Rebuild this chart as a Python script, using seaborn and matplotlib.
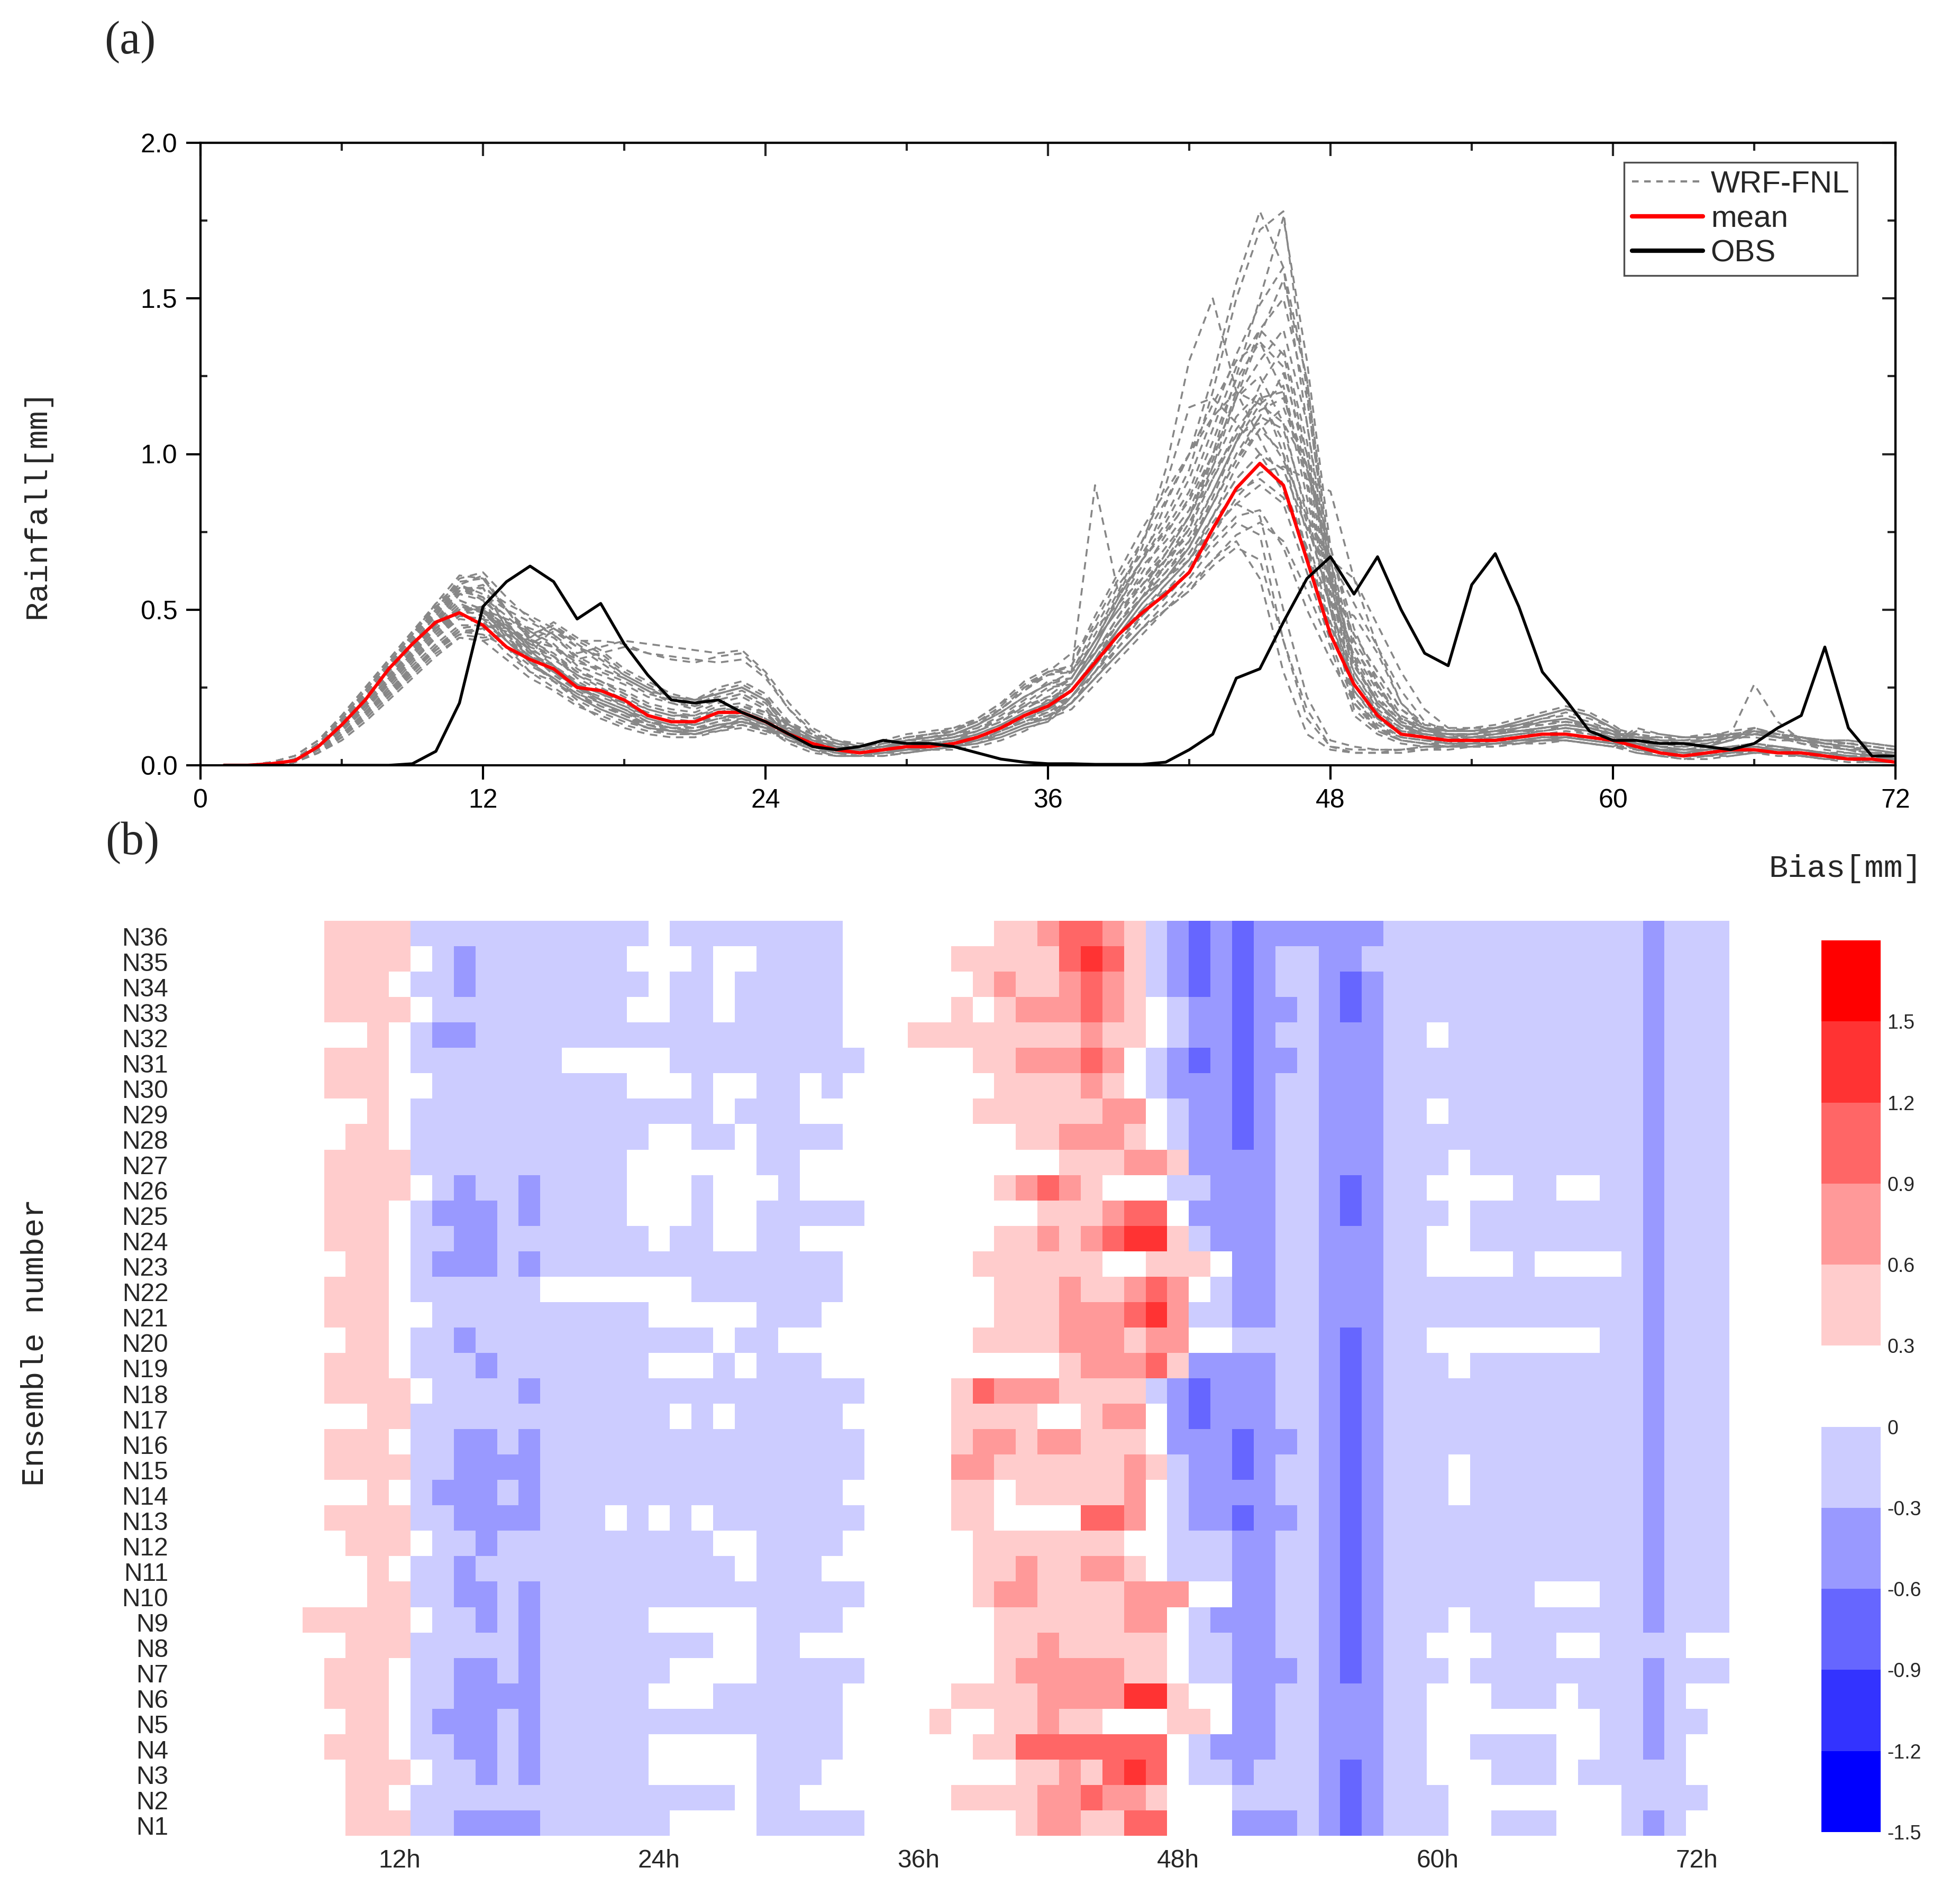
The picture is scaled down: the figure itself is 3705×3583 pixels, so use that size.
import numpy as np
import pandas as pd
import matplotlib
matplotlib.use("Agg")
import matplotlib.pyplot as plt
import matplotlib.transforms as mtransforms
from matplotlib.colors import ListedColormap, BoundaryNorm
from matplotlib.lines import Line2D
from matplotlib.ticker import MultipleLocator, NullFormatter, FormatStrFormatter
import seaborn as sns

sns.set_style("ticks")
plt.rcParams['font.family'] = ['Liberation Sans', 'DejaVu Sans']

# ---------------- panel (a) data ----------------
LINE_HOURS = list(range(1, 73))

OBS = [0, 0, 0, 0, 0, 0, 0, 0, 0.005, 0.045, 0.20, 0.51,
       0.59, 0.64, 0.59, 0.47, 0.52, 0.39, 0.29, 0.21, 0.20, 0.21, 0.17, 0.14,
       0.10, 0.06, 0.05, 0.06, 0.08, 0.07, 0.07, 0.06, 0.04, 0.02, 0.01, 0.005,
       0.005, 0.003, 0.003, 0.003, 0.01, 0.05, 0.10, 0.28, 0.31, 0.46, 0.60, 0.67,
       0.55, 0.67, 0.50, 0.36, 0.32, 0.58, 0.68, 0.51, 0.30, 0.21, 0.11, 0.08,
       0.08, 0.07, 0.07, 0.06, 0.05, 0.07, 0.12, 0.16, 0.38, 0.12, 0.03, 0.03]

MEAN = [0, 0, 0.005, 0.015, 0.06, 0.13, 0.21, 0.31, 0.39, 0.46, 0.49, 0.45,
        0.38, 0.34, 0.31, 0.25, 0.24, 0.21, 0.16, 0.14, 0.14, 0.17, 0.17, 0.14,
        0.10, 0.07, 0.05, 0.04, 0.05, 0.06, 0.06, 0.07, 0.09, 0.12, 0.16, 0.19,
        0.24, 0.33, 0.42, 0.49, 0.55, 0.62, 0.76, 0.89, 0.97, 0.90, 0.66, 0.42,
        0.26, 0.16, 0.10, 0.09, 0.08, 0.08, 0.08, 0.09, 0.10, 0.10, 0.09, 0.08,
        0.06, 0.04, 0.03, 0.04, 0.05, 0.05, 0.04, 0.04, 0.03, 0.02, 0.02, 0.01]

# WRF-FNL ensemble members, hourly rainfall in 0.01 mm (hours 1..72)
ENSEMBLE = {
 "N1": "0 0 0 2 6 13 21 29 37 45 52 49|44 38 35 29 26 22 18 16 15 18 19 16|11 7 5 4 5 6 7 8 10 13 17 20|26 36 48 58 66 76 92 108 118 104 74 46|26 15 10 9 8 8 8 9 10 11 10 8|7 5 4 4 5 6 5 4 3 3 2 2",
 "N2": "0 0 0 1 5 11 18 26 34 41 47 46|40 34 31 25 22 19 15 13 13 16 16 13|9 6 4 3 4 5 6 6 8 11 14 16|22 30 40 48 56 64 76 84 80 50 22 8|6 5 5 6 6 7 7 8 9 9 8 7|6 4 3 4 5 5 4 4 3 2 2 1",
 "N3": "0 0 1 3 8 16 25 34 43 52 58 55|50 46 42 36 38 40 39 38 37 36 37 30|20 12 8 6 6 8 9 10 13 17 22 26|30 44 58 68 80 95 120 150 172 178 120 60|35 22 14 11 10 10 11 12 14 15 13 10|9 7 6 7 9 12 10 8 6 5 4 3",
 "N4": "0 0 0 1 4 10 16 23 30 37 43 44|36 30 27 22 19 16 13 12 12 14 15 12|8 5 3 3 4 5 5 6 7 9 12 14|20 28 36 44 52 60 70 78 74 40 15 6|5 5 5 6 6 6 7 7 8 8 7 6|5 3 2 3 4 4 3 3 2 2 1 1",
 "N5": "0 0 0 2 7 14 22 31 40 50 60 62|54 47 42 34 30 27 23 21 20 22 24 20|12 8 6 5 7 9 10 11 14 19 26 30|36 44 52 60 68 80 100 125 150 176 130 70|40 28 16 12 11 11 12 14 16 18 16 12|8 6 5 6 10 26 14 8 6 5 3 3",
 "N6": "0 0 0 1 5 12 19 27 35 43 50 51|44 36 29 24 20 17 13 11 10 12 13 11|10 6 4 4 5 6 6 7 9 12 15 17|30 90 55 66 75 85 100 118 125 110 80 50|30 18 12 10 9 9 10 11 12 13 12 10|10 9 8 8 9 10 9 8 7 7 6 5",
 "N7": "0 0 0 2 6 12 20 28 36 46 56 58|50 42 45 40 36 30 26 22 20 24 26 22|12 8 6 5 6 7 8 9 11 14 18 22|28 40 55 70 95 130 150 120 105 90 70 45|24 14 9 8 8 9 9 10 11 12 11 9|5 4 4 5 6 6 5 4 3 2 2 2",
 "N8": "0 0 0 1 4 9 15 22 29 36 41 40|34 28 24 19 16 13 11 10 10 12 14 12|7 4 3 3 3 4 5 5 6 8 11 15|18 26 34 42 50 58 66 72 60 30 10 5|4 4 5 5 5 6 6 7 8 8 7 6|4 3 3 3 4 5 4 3 3 2 2 1",
 "N9": "0 0 0 2 6 14 22 30 38 46 53 50|41 35 30 26 23 19 16 14 13 15 17 14|13 9 7 5 6 8 9 10 13 17 22 26|26 38 52 64 72 82 100 118 130 140 110 62|33 20 13 10 9 10 12 13 15 16 14 11|8 6 4 4 5 7 6 5 4 3 3 2",
 "N10": "0 0 0 1 5 11 18 26 34 42 48 47|45 39 35 30 27 23 19 17 15 17 19 17|10 7 5 4 5 6 6 7 9 12 16 19|24 34 46 56 64 72 84 98 112 126 100 60|22 13 9 8 7 7 7 8 9 9 8 7|11 10 9 9 10 11 10 9 8 8 7 6",
 "N11": "0 0 1 3 8 16 25 34 43 51 57 53|46 38 32 26 21 18 15 13 12 14 16 13|11 7 5 4 5 5 6 8 10 13 16 19|22 32 44 54 60 68 80 92 100 95 76 66|60 45 30 18 12 11 12 14 16 18 16 12|10 8 7 8 9 11 9 7 6 5 5 4",
 "N12": "0 0 0 1 4 10 17 24 31 37 42 44|46 43 39 32 29 26 22 20 19 21 23 19|10 6 5 5 6 7 8 10 12 15 19 21|20 30 40 50 58 66 80 96 108 115 95 66|28 17 12 11 10 10 10 11 11 12 11 10|7 6 5 5 6 6 5 5 4 3 3 2",
 "N13": "0 0 0 2 7 15 23 32 41 50 59 60|50 40 32 25 20 17 13 11 10 12 13 11|8 5 3 3 5 6 7 7 9 12 15 18|24 34 46 56 68 80 96 112 120 100 68 42|28 17 11 9 7 7 8 8 9 10 9 7|6 4 3 3 4 5 4 3 3 2 1 1",
 "N14": "0 0 0 1 5 12 20 28 36 44 50 50|42 36 44 39 34 29 25 21 19 23 25 21|13 9 7 6 7 8 9 11 15 20 25 29|32 46 60 72 85 100 125 155 178 160 110 58|42 30 18 13 12 12 13 15 17 19 17 13|8 6 6 7 8 10 11 9 7 6 4 3",
 "N15": "0 0 0 2 6 12 19 27 35 45 55 57|44 34 27 21 17 14 12 11 11 13 14 12|9 6 5 5 6 6 7 7 8 11 14 17|22 30 38 46 54 62 72 80 82 70 50 34|20 12 8 7 6 7 8 8 8 9 9 8|5 4 3 3 3 4 4 3 2 2 1 1",
 "N16": "0 0 0 1 4 9 15 22 30 37 42 41|42 40 38 34 36 38 36 35 34 33 34 28|18 11 7 5 6 8 9 10 13 17 22 26|28 40 54 66 76 88 108 128 140 132 100 58|32 20 13 11 10 10 11 12 13 14 13 11|9 9 9 10 10 11 10 9 8 7 7 6",
 "N17": "0 0 0 2 6 13 20 28 36 44 50 48|40 33 28 23 20 17 14 13 13 15 16 13|9 6 4 4 5 5 6 7 8 10 13 16|20 30 42 52 60 70 86 104 122 134 104 58|30 19 13 11 11 11 12 13 13 14 12 10|7 5 3 3 4 5 5 5 4 3 2 2",
 "N18": "0 0 0 1 5 11 19 27 35 43 50 50|47 44 41 35 31 28 24 22 21 23 25 21|13 8 5 4 4 5 6 7 9 12 16 21|26 36 48 60 70 80 94 106 110 98 80 66|52 38 24 14 11 11 12 14 16 18 16 12|6 5 4 5 6 7 6 5 4 3 2 2",
 "N19": "0 0 0 2 7 15 24 33 42 50 56 54|45 37 30 25 21 18 14 12 11 13 14 12|9 5 4 4 5 5 5 6 7 10 13 15|22 32 44 54 62 72 88 104 116 122 90 50|18 11 8 7 6 6 7 7 8 8 7 6|9 8 7 7 8 10 9 8 7 6 5 4",
 "N20": "0 0 0 1 4 10 17 24 31 38 44 45|44 40 44 38 33 28 24 20 18 21 23 19|10 7 5 4 4 5 6 7 10 13 17 20|24 32 42 50 56 62 74 86 94 96 92 88|60 38 20 12 9 9 10 11 12 13 12 10|6 4 3 3 4 5 4 4 3 3 2 2",
 "N21": "0 0 0 2 7 14 23 32 42 52 61 60|50 43 38 31 27 23 19 17 16 19 20 17|14 10 8 6 7 9 10 11 14 18 24 30|32 48 62 76 88 100 116 130 136 120 86 52|24 15 10 9 9 9 9 10 10 10 9 8|10 8 8 9 11 12 10 9 8 7 6 5",
 "N22": "0 0 0 1 5 12 20 28 36 44 51 50|40 35 32 27 23 20 16 14 14 16 15 12|11 8 7 6 8 10 11 12 14 18 24 29|30 42 56 72 90 115 118 110 100 88 68 44|36 24 15 12 11 11 11 11 12 13 12 10|7 5 5 5 5 6 6 5 4 4 3 2",
 "N23": "0 0 0 2 6 13 21 30 39 48 57 57|52 48 44 40 40 39 36 34 33 35 36 29|18 10 6 4 5 6 6 7 8 10 13 15|20 28 38 48 58 66 78 88 92 86 70 52|48 36 20 13 11 11 12 14 16 18 16 12|6 5 4 4 5 4 4 3 3 3 2 1",
 "N24": "0 0 0 1 4 9 16 23 31 38 43 42|38 32 28 22 18 15 12 11 11 13 14 11|10 7 6 5 6 6 7 7 9 12 16 19|26 36 48 58 68 80 98 120 140 150 118 64|22 12 8 7 7 8 9 10 11 12 10 9|8 7 7 8 10 11 9 8 7 5 4 4",
 "N25": "0 0 0 2 6 13 20 28 37 46 53 50|45 40 36 30 27 24 20 18 17 20 22 18|8 6 5 4 4 5 6 7 8 10 13 16|20 28 36 44 50 56 66 74 78 72 56 38|16 10 7 6 6 7 7 8 8 9 8 7|7 6 5 6 8 12 9 7 5 4 3 2",
 "N26": "0 0 0 1 5 10 17 25 33 41 48 47|40 33 28 23 19 16 12 10 10 11 12 10|12 8 6 5 6 7 8 9 12 16 21 27|28 40 50 62 74 86 104 124 136 128 96 56|26 16 11 10 10 10 11 11 12 12 11 9|8 6 5 5 6 7 6 4 3 3 2 2",
 "N27": "0 0 1 3 8 15 24 33 42 51 57 54|48 41 46 41 37 31 27 23 21 25 27 23|14 8 5 4 5 6 5 6 7 9 12 14|22 32 44 54 66 78 92 106 118 120 92 54|20 11 8 7 7 8 9 9 10 10 9 8|5 4 3 3 4 5 5 4 4 3 2 2",
 "N28": "0 0 0 1 4 9 16 23 30 38 44 45|38 30 25 20 15 12 10 9 9 11 13 11|12 7 5 5 6 8 10 12 15 20 27 31|30 40 50 58 66 74 88 104 114 118 96 66|38 25 15 12 10 9 10 12 14 15 13 11|5 3 3 4 5 5 4 3 2 2 2 1",
 "N29": "0 0 0 2 7 14 22 30 39 49 58 61|50 41 35 28 24 20 17 15 14 17 18 15|11 6 4 4 5 7 7 8 9 11 14 16|20 28 36 44 50 56 64 70 66 40 18 6|4 4 4 5 6 6 7 8 9 9 8 7|12 10 9 9 10 10 9 9 8 8 7 6",
 "N30": "0 0 0 1 5 11 19 26 34 42 49 51|42 36 32 26 23 20 16 14 14 17 17 14|12 7 4 3 4 6 8 9 11 14 19 24|28 40 54 66 78 92 112 132 148 160 124 62|34 20 13 10 9 8 9 10 12 13 12 10|10 7 6 6 8 11 10 9 7 6 5 4",
 "N31": "0 0 0 2 6 13 21 29 37 47 56 57|46 37 30 24 20 16 13 12 12 13 14 12|10 6 4 3 3 4 5 6 9 12 16 20|24 34 44 54 62 70 84 98 108 100 78 52|38 26 15 11 10 10 11 13 15 17 15 12|7 5 4 4 4 5 5 4 4 3 2 2",
 "N32": "0 0 0 1 4 8 14 21 28 35 41 40|42 40 38 33 31 28 24 22 21 23 25 21|13 10 8 7 7 8 8 9 11 15 20 25|26 36 46 54 60 66 76 84 90 84 62 40|20 12 9 8 7 6 6 7 7 8 7 6|6 4 4 5 6 6 5 4 3 2 1 1",
 "N33": "0 0 0 2 6 12 20 28 36 44 51 49|42 35 30 25 21 18 14 12 11 13 14 12|13 9 6 5 6 8 9 10 13 18 25 30|30 36 46 54 60 68 80 92 100 95 76 60|42 30 18 12 10 9 10 11 12 13 12 10|4 3 2 2 3 4 4 3 2 1 1 1",
 "N34": "0 0 0 1 5 12 19 27 35 43 49 49|44 39 43 38 35 29 25 22 21 23 25 21|10 6 5 5 5 6 7 8 10 13 16 18|26 38 52 66 84 100 112 120 116 110 96 70|44 26 14 9 7 7 7 8 9 9 8 7|9 8 8 8 9 9 8 8 7 6 6 5",
 "N35": "0 0 0 2 7 15 23 32 41 49 55 53|42 33 27 22 18 15 12 11 10 12 15 13|11 8 6 5 5 5 6 8 11 15 19 22|24 34 44 54 64 76 96 118 138 156 124 66|32 21 14 12 11 12 12 13 14 14 13 11|8 7 7 8 9 10 9 7 6 5 4 4",
 "N36": "0 0 0 1 4 10 16 24 32 39 45 45|43 37 34 29 25 21 18 16 16 18 18 15|9 7 5 4 4 4 5 6 8 11 15 18|22 32 42 52 60 70 84 100 112 108 82 50|26 16 11 10 9 8 8 9 10 10 9 8|7 4 3 4 4 5 5 4 3 3 2 1",
}

# ---------------- panel (b) data ----------------
HEAT_HOURS = list(range(2, 74))
MEMBERS = [f"N{i}" for i in range(36, 0, -1)]
HOUR_TICKS = [12, 24, 36, 48, 60, 72]
# bias class of each cell (hours 2..73): '.' 0~0.3, 'a' -0.3~0, 'b' -0.6~-0.3, 'c' -0.9~-0.6,
# '1' 0.3~0.6, '2' 0.6~0.9, '3' 0.9~1.2, '4' 1.2~1.5
BIAS_LEVEL = {'.': 0.1, 'a': -0.15, 'b': -0.45, 'c': -0.75,
              '1': 0.45, '2': 0.75, '3': 1.05, '4': 1.35}
BIAS_CODES = {
 "N36": "...... .1111 aaaaaaaaaaa.aaaaaa aa.......1123321abcbcb bbbbb aaaaaaaaaaaa b aaa",
 "N35": "...... .1111 .abaaaaaaa...a..aa aa.....111113431abcbcb aabba aaaaaaaaaaaa b aaa",
 "N34": "...... .111. aabaaaaaaaa.aa.aaa aa......12112321abcbcb aabcb aaaaaaaaaaaa b aaa",
 "N33": "...... .1111 .aaaaaaaaa..aa.aaa aa.....1.1222321.abbcb babcb aaaaaaaaaaaa b aaa",
 "N32": "...... ...1. abbaaaaaaaaaaaaaaa aa...11111111211.abbcb aabbb aa.aaaaaaaaa b aaa",
 "N31": "...... .111. aaaaaaa.....aaaaaa aaa.....1122232.abcbcb babbb aaaaaaaaaaaa b aaa",
 "N30": "...... .111. .aaaaaaaaa...a..aa .a.......111121.abbbcb aabbb aaaaaaaaaaaa b aaa",
 "N29": "...... ...1. aaaaaaaaaaaaaa.aaa ........11111122.abbcb aabbb aa.aaaaaaaaa b aaa",
 "N28": "...... ..11. aaaaaaaaaaa..aa.aa aa........112221.abbcb aabbb aaaaaaaaaaaa b aaa",
 "N27": "...... .1111 aaaaaaaaaa......aa ............111221bbbb aabbb aaa.aaaaaaaa b aaa",
 "N26": "...... .1111 .abaabaaaa...a...a .........12321...aabbb aabcb aa....aa..aa b aaa",
 "N25": "...... .111. abbbabaaaa...a..aa aaa........111233.bbbb aabcb aaa.aaaaaaaa b aaa",
 "N24": "...... .111. aabbaaaaaaa.aa..aa .........112123441abbb aabbb aa..aaaaaaaa b aaa",
 "N23": "...... ..11. abbbabaaaaaaaaaaaa aa......111111..111.bb aabbb aa....a....a b aaa",
 "N22": "...... .111. aaaaaa.......aaaaa aa.......111211232.abb aabbb aaaaaaaaaaaa b aaa",
 "N21": "...... .111. .aaaaaaaaaa.....aa a........111222342aabb aabbb aaaaaaaaaaaa b aaa",
 "N20": "...... ..11. aabaaaaaaaaaaa.aa. ........1111222122..aa aabcb aa........aa b aaa",
 "N19": "...... .111. aaabaaaaaaa...a.aa a...........122231bbbb aabcb aaa.aaaaaaaa b aaa",
 "N18": "...... .1111 .aaaabaaaaaaaaaaaa aaa....132221111abcbbb aabcb aaaaaaaaaaaa b aaa",
 "N17": "...... ...11 aaaaaaaaaaaa.a.aaa aa.....1111..122.bcbbb aabcb aaaaaaaaaaaa b aaa",
 "N16": "...... .111. aabbabaaaaaaaaaaaa aaa....122122111.bbbcb babcb aaaaaaaaaaaa b aaa",
 "N15": "...... .1111 aabbbbaaaaaaaaaaaa aaa....2211111121abbcb aabcb aaa.aaaaaaaa b aaa",
 "N14": "...... ...1. abbbabaaaaaaaaaaaa aa.....11.111112.abbbb aabcb aaa.aaaaaaaa b aaa",
 "N13": "...... .1111 aabbbbaaa.a.a.aaaa aaa....11....332.abbcb babcb aaaaaaaaaaaa b aaa",
 "N12": "...... ..111 .aabaaaaaaaaaa..aa aa......1111111..aaabb aabcb aaaaaaaaaaaa b aaa",
 "N11": "...... ...1. aabaaaaaaaaaaaa.aa a.......11211221.aaabb aabcb aaaaaaaaaaaa b aaa",
 "N10": "...... ...11 aabbabaaaaaaaaaaaa aaa.....1221111222..bb aabcb aaaaaaa...aa b aaa",
 "N9":  "...... 11111 .aababaaaaa.....aa aa.......11111122.abbb aabcb aaa.aaaaaaaa b aaa",
 "N8":  "...... ..111 aaaaabaaaaaaaa..aa .........11211111.aabb aabcb aa...aaa..aa a a..",
 "N7":  "...... .111. aabbabaaaaaa....aa aaa......12222211.aabb babcb aaa.aaaaaaaa b aaa",
 "N6":  "...... .111. aabbbbaaaaa...aaaa aa.....11112222441..bb aabbb aa...aaa.aaa b a..",
 "N5":  "...... ..11. abbbabaaaaaaaaaaaa aa....1..11211...11.bb aabbb aa........aa b aa.",
 "N4":  "...... .111. aabbabaaaaa.....aa aa......113333333.abbb aabbb aa..aaaa..aa b a..",
 "N3":  "...... ..111 .aababaaaaa.....aa a.........1121343.aaba aabcb aa...aaa.aaa a a..",
 "N2":  "...... ..11. aaaaaaaaaaaaaaa.aa .......1111223221...aa aabcb aaa........a a aa.",
 "N1":  "...... ..111 aabbbbaaaaaa....aa aaa.......1221133...bb babcb aaa..aaa...a b a..",
}

CB_BOUNDS = [-1.5, -1.2, -0.9, -0.6, -0.3, 0, 0.3, 0.6, 0.9, 1.2, 1.5, 1.8]
CB_COLORS = ['#0000FF', '#3333FF', '#6666FF', '#9999FF', '#CCCCFF', '#FFFFFF',
             '#FFCCCC', '#FF9999', '#FF6666', '#FF3333', '#FF0000']
CB_TICKS = [-1.5, -1.2, -0.9, -0.6, -0.3, 0, 0.3, 0.6, 0.9, 1.2, 1.5]
CB_TICKLABELS = ['-1.5', '-1.2', '-0.9', '-0.6', '-0.3', '0', '0.3', '0.6', '0.9', '1.2', '1.5']

# ---------------- build tables ----------------
bad = []
ens_records = []
for name, txt in ENSEMBLE.items():
    vals = [int(v) for v in txt.replace('|', ' ').split()]
    if len(vals) != len(LINE_HOURS):
        bad.append(f"{name}:{len(vals)}")
        continue
    for h, v in zip(LINE_HOURS, vals):
        ens_records.append((name, h, v / 100.0))
heat_rows = []
for m in MEMBERS:
    s = BIAS_CODES[m].replace(' ', '')
    if len(s) != len(HEAT_HOURS):
        bad.append(f"{m}:{len(s)}")
        s = (s + '.' * 80)[:len(HEAT_HOURS)]
    heat_rows.append([BIAS_LEVEL[c] for c in s])
if bad:
    raise SystemExit("length problems: " + ", ".join(bad))
ens_df = pd.DataFrame(ens_records, columns=['member', 'hour', 'rain'])
heat_df = pd.DataFrame(heat_rows, index=MEMBERS, columns=HEAT_HOURS)

# ---------------- figure ----------------
W, H = 3705, 3583
fig = plt.figure(figsize=(W / 300, H / 300), dpi=300)


def box(x0, y0, x1, y1):
    return [x0 / W, 1 - y1 / H, (x1 - x0) / W, (y1 - y0) / H]


ax1 = fig.add_axes(box(379, 270, 3583, 1447))
ax2 = fig.add_axes(box(326.5, 1741, 3269, 3471))
cax = fig.add_axes(box(3443, 1778, 3555, 3464))

GRAY = '#878787'
sns.lineplot(data=ens_df, x='hour', y='rain', units='member', estimator=None,
             color=GRAY, linewidth=0.85, linestyle=(0, (4, 3)), ax=ax1, legend=False)
sns.lineplot(x=LINE_HOURS, y=MEAN, color='#FF0000', linewidth=1.5, ax=ax1)
sns.lineplot(x=LINE_HOURS, y=OBS, color='black', linewidth=1.3, ax=ax1)

ax1.set_xlim(0, 72)
ax1.set_ylim(0, 2.0)
ax1.set_xlabel('')
ax1.set_ylabel('')
ax1.xaxis.set_major_locator(MultipleLocator(12))
ax1.xaxis.set_minor_locator(MultipleLocator(6))
ax1.yaxis.set_major_locator(MultipleLocator(0.5))
ax1.yaxis.set_minor_locator(MultipleLocator(0.25))
ax1.yaxis.set_major_formatter(FormatStrFormatter('%.1f'))
ax1.tick_params(which='major', direction='out', length=6.5, width=1.0,
                labelsize=12, top=False, right=False, pad=4, colors='black')
ax1.tick_params(which='minor', direction='in', length=3, width=1.0, top=False, right=False)
for sp in ax1.spines.values():
    sp.set_linewidth(1.0)
    sp.set_color('black')

secx = ax1.secondary_xaxis('top')
secx.xaxis.set_major_locator(MultipleLocator(12))
secx.xaxis.set_minor_locator(MultipleLocator(6))
secx.xaxis.set_major_formatter(NullFormatter())
secx.tick_params(which='major', direction='in', length=6, width=1.0)
secx.tick_params(which='minor', direction='in', length=3.5, width=1.0)
secy = ax1.secondary_yaxis('right')
secy.yaxis.set_major_locator(MultipleLocator(0.5))
secy.yaxis.set_minor_locator(MultipleLocator(0.25))
secy.yaxis.set_major_formatter(NullFormatter())
secy.tick_params(which='major', direction='in', length=6, width=1.0)
secy.tick_params(which='minor', direction='in', length=3.5, width=1.0)
for sa in (secx, secy):
    for sp in sa.spines.values():
        sp.set_linewidth(1.0)

handles = [Line2D([], [], color=GRAY, lw=1.0, ls=(0, (3, 2.5))),
           Line2D([], [], color='#FF0000', lw=2.0),
           Line2D([], [], color='black', lw=2.0)]
leg = ax1.legend(handles, ['WRF-FNL', 'mean', 'OBS'], loc='upper right',
                 bbox_to_anchor=(0.9775, 0.9686), borderaxespad=0, frameon=True,
                 fancybox=False, edgecolor='#222222', fontsize=14, handlelength=2.3,
                 handletextpad=0.25, labelspacing=0.2, borderpad=0.25)
leg.get_frame().set_linewidth(0.8)

# ---------------- heatmap ----------------
cmap = ListedColormap(CB_COLORS)
norm = BoundaryNorm(CB_BOUNDS, cmap.N)
sns.heatmap(heat_df, ax=ax2, cbar_ax=cax, cmap=cmap, norm=norm,
            xticklabels=False, yticklabels=True, cbar_kws={'ticks': CB_TICKS})
ax2.set_xlabel('')
ax2.set_ylabel('')
ax2.set_xticks([HEAT_HOURS.index(h) + 0.5 for h in HOUR_TICKS])
ax2.set_xticklabels([f"{h}h" for h in HOUR_TICKS], fontsize=11.5, rotation=0)
ax2.set_yticks([i + 0.5 for i in range(len(MEMBERS))])
ax2.set_yticklabels(MEMBERS, fontsize=11.5, rotation=0)
ax2.tick_params(axis='x', length=0, pad=6)
ax2.tick_params(axis='y', length=0, pad=2)
shift = mtransforms.ScaledTranslation(0, -2.4 / 72, fig.dpi_scale_trans)
for lab in ax2.get_yticklabels():
    lab.set_transform(lab.get_transform() + shift)

cb = ax2.collections[0].colorbar
cb.set_ticks(CB_TICKS)
cb.set_ticklabels(CB_TICKLABELS)
cb.outline.set_visible(False)
cax.minorticks_off()
cax.tick_params(which='both', length=0, labelsize=9, pad=3)

# ---------------- texts ----------------
fig.text(197 / W, 1 - 80 / H, "(a)", family=['Liberation Serif', 'DejaVu Serif'],
         fontsize=21, ha='left', va='center')
fig.text(199 / W, 1 - 1594 / H, "(b)", family=['Liberation Serif', 'DejaVu Serif'],
         fontsize=21, ha='left', va='center')
fig.text(70 / W, 1 - 952 / H, "Rainfall[mm]", family=['Liberation Mono', 'DejaVu Sans Mono'],
         fontsize=14.5, rotation=90, ha='center', va='center')
fig.text(66 / W, 1 - 2538 / H, "Ensemble number", family=['Liberation Mono', 'DejaVu Sans Mono'],
         fontsize=14.5, rotation=90, ha='center', va='center')
fig.text(3488 / W, 1 - 1642 / H, "Bias[mm]", family=['Liberation Mono', 'DejaVu Sans Mono'],
         fontsize=14.5, ha='center', va='center')

fig.savefig("out.png", dpi=300)
